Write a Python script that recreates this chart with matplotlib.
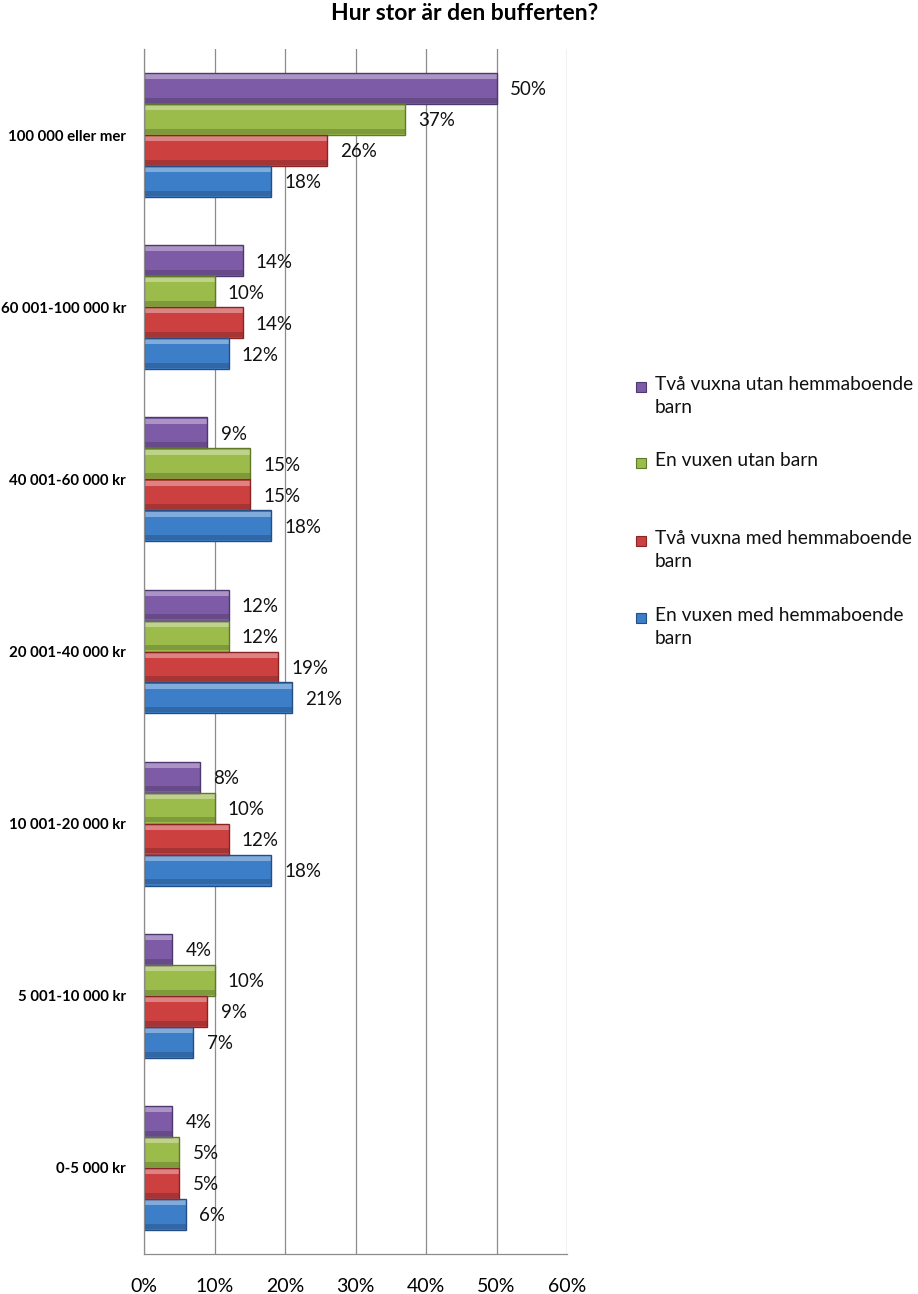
import matplotlib
matplotlib.use("Agg")
import matplotlib.pyplot as plt
import numpy as np
from matplotlib.patches import Rectangle
from matplotlib.colors import to_rgb

plt.rcParams['font.family'] = ['Lato', 'DejaVu Sans']

categories = ["100 000 eller mer", "60 001-100 000 kr", "40 001-60 000 kr",
              "20 001-40 000 kr", "10 001-20 000 kr", "5 001-10 000 kr", "0-5 000 kr"]
series_names = ["Två vuxna utan hemmaboende\nbarn", "En vuxen utan barn",
                "Två vuxna med hemmaboende\nbarn", "En vuxen med hemmaboende\nbarn"]
two_adults_no_kids = [50, 14, 9, 12, 8, 4, 4]
one_adult_no_kids = [37, 10, 15, 12, 10, 10, 5]
two_adults_kids = [26, 14, 15, 19, 12, 9, 5]
one_adult_kids = [18, 12, 18, 21, 18, 7, 6]
values = [two_adults_no_kids, one_adult_no_kids, two_adults_kids, one_adult_kids]
colors = ["#7D5BA6", "#9BBB4A", "#CC4040", "#3C7EC8"]
edges = ["#4E3870", "#5E7A28", "#8A2424", "#234F85"]
xticks = [0, 10, 20, 30, 40, 50, 60]


def lighten(c, f):
    r = np.array(to_rgb(c))
    return tuple(r + (1 - r) * f)


def darken(c, f):
    return tuple(np.array(to_rgb(c)) * (1 - f))


fig = plt.figure(figsize=(9.18, 12.94), dpi=100)
ax = fig.add_axes([144/918, 40/1294, (567-144)/918, (1254-49)/1294])

n = len(series_names)
bh = 0.18
y = np.arange(len(categories))
for i, (vals, c, e) in enumerate(zip(values, colors, edges)):
    pos = y + (i - (n - 1) / 2) * bh
    bars = ax.barh(pos, vals, height=bh, color=c, linewidth=0,
                   label=series_names[i], zorder=3)
    # bevel highlights (top lighter, bottom darker)
    ax.barh(pos - bh * 0.38, vals, height=bh * 0.16, color=lighten(c, 0.35),
            linewidth=0, zorder=3.3)
    ax.barh(pos + bh * 0.38, vals, height=bh * 0.16, color=darken(c, 0.18),
            linewidth=0, zorder=3.3)
    ax.barh(pos, vals, height=bh, facecolor="none", edgecolor=e,
            linewidth=1.0, zorder=3.6)
    for b, v in zip(bars, vals):
        ax.annotate(f"{v}%", (b.get_width(), b.get_y() + b.get_height() / 2),
                    xytext=(9.5, -1), textcoords="offset points", va="center",
                    ha="left", fontsize=13.5, color="#111111", zorder=4)

ax.set_ylim(len(categories) - 0.5, -0.5)
ax.set_xlim(0, 60)
ax.set_xticks(xticks)
ax.set_xticklabels([f"{t}%" for t in xticks], fontsize=14)
ax.set_yticks(y)
ax.set_yticklabels(categories, fontsize=10.8, fontweight="bold")
ax.tick_params(axis="both", length=0)
ax.tick_params(axis="x", pad=17)
ax.tick_params(axis="y", pad=13)
ax.grid(axis="x", color="#8c8c8c", linewidth=0.9, zorder=0)
for s in ["top", "right"]:
    ax.spines[s].set_visible(False)
for s in ["left", "bottom"]:
    ax.spines[s].set_color("#8c8c8c")
    ax.spines[s].set_linewidth(0.9)
    ax.spines[s].set_zorder(5)

# legend drawn in figure pixel positions
leg_y = [387, 463, 541, 618]
for name, c, e, ly in zip(series_names, colors, edges, leg_y):
    fig.patches.append(Rectangle(((636) / 918, 1 - (ly + 5) / 1294), 10 / 918, 10 / 1294,
                                 transform=fig.transFigure, facecolor=c,
                                 edgecolor=e, linewidth=0.8))
    fig.text(655 / 918, 1 - (ly - 11) / 1294, name, ha="left", va="top",
             fontsize=13.8, linespacing=1.45, color="#111111")

fig.text(465/918, 1 - 14/1294, "Hur stor är den bufferten?", ha="center",
         va="center", fontsize=16.5, fontweight="bold")

fig.savefig("out.png", dpi=100)
